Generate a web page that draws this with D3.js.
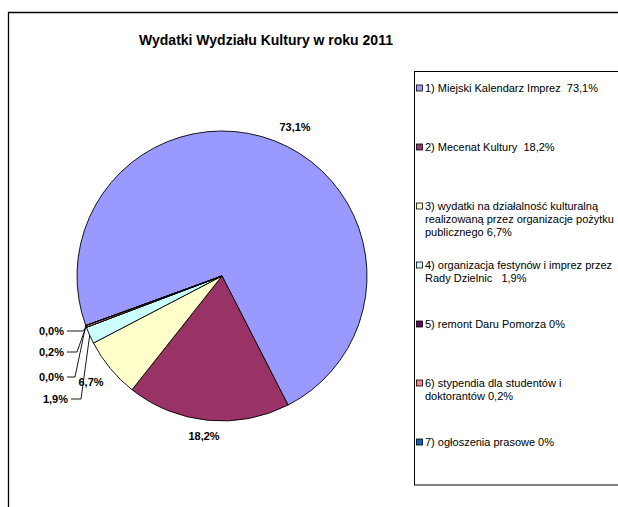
<!DOCTYPE html>
<html><head><meta charset="utf-8">
<script src="https://cdn.jsdelivr.net/npm/d3@7/dist/d3.min.js"></script>
<style>body{margin:0;background:#fff;overflow:hidden} text{font-family:"Liberation Sans",Arial,sans-serif;white-space:pre}</style>
</head><body>
<script>
// ---- data ----
const categories = [
  "1) Miejski Kalendarz Imprez  73,1%",
  "2) Mecenat Kultury  18,2%",
  "3) wydatki na działalność kulturalną\nrealizowaną przez organizacje pożytku\npublicznego 6,7%",
  "4) organizacja festynów i imprez przez\nRady Dzielnic   1,9%",
  "5) remont Daru Pomorza 0%",
  "6) stypendia dla studentów i\ndoktorantów 0,2%",
  "7) ogłoszenia prasowe 0%"
];
const values = [73.1, 18.2, 6.7, 1.9, 0, 0.2, 0];
const valueLabels = ["73,1%", "18,2%", "6,7%", "1,9%", "0,0%", "0,2%", "0,0%"];
const colors = ["#9999FF", "#993366", "#FFFFCC", "#CCFFFF", "#660066", "#FF8080", "#0066CC"];
const title = "Wydatki Wydziału Kultury w roku 2011";

// ---- layout ----
const W = 618, H = 507;
const cx = 222, cy = 276, R = 145;
const firstSliceDeg = 250;
// label placement: [x, y, anchor, leader elbow x or null]
const labelLayout = [
  [295, 127, "middle", null],
  [204, 436, "middle", null],
  [91, 382, "middle", null],
  [68, 399, "end", 81],
  [64, 331, "end", 83],
  [64, 352, "end", 77],
  [64, 377, "end", 75]
];

const svg = d3.select("body").append("svg").attr("width", W).attr("height", H);

// outer frame
svg.append("path").attr("d", `M8.5,${H+2} V12.5 H${W+2}`)
  .attr("fill", "none").attr("stroke", "#000").attr("stroke-width", 1.3);

svg.append("text").attr("x", 266).attr("y", 40).attr("dy", "0.35em")
  .attr("text-anchor", "middle").attr("font-weight", "bold").attr("font-size", 14)
  .text(title);

const a0 = firstSliceDeg * Math.PI / 180;
const pie = d3.pie().sort(null).value(d => d).startAngle(a0).endAngle(a0 + 2 * Math.PI);
const arcs = pie(values);
const arc = d3.arc().innerRadius(0).outerRadius(R);
const edge = d3.arc().innerRadius(R).outerRadius(R);

const g = svg.append("g").attr("transform", `translate(${cx},${cy})`);
g.selectAll("path.slice").data(arcs).enter().append("path")
  .attr("class", "slice")
  .attr("d", arc)
  .attr("fill", (d, i) => colors[i])
  .attr("stroke", "#000").attr("stroke-width", 0.9).attr("stroke-linejoin", "round");

// labels
arcs.forEach((d, i) => {
  const [lx, ly, anchor, elbow] = labelLayout[i];
  if (elbow !== null) {
    const p = edge.centroid(d);
    const ex = p[0] + cx, ey = p[1] + cy;
    svg.append("polyline")
      .attr("points", `${lx + 3},${ly} ${elbow},${ly} ${ex},${ey}`)
      .attr("fill", "none").attr("stroke", "#000").attr("stroke-width", 0.9);
  }
  svg.append("text").attr("x", lx).attr("y", ly).attr("dy", "0.35em")
    .attr("text-anchor", anchor).attr("font-weight", "bold").attr("font-size", 11)
    .text(valueLabels[i]);
});

// legend
svg.append("rect").attr("x", 414.5).attr("y", 71.5).attr("width", 220).attr("height", 413.5)
  .attr("fill", "#fff").attr("stroke", "#000").attr("stroke-width", 1);
const legY = d3.scalePoint().domain(d3.range(categories.length)).range([88, 442]);
categories.forEach((c, i) => {
  const y = legY(i);
  svg.append("rect").attr("x", 416.5).attr("y", y - 3).attr("width", 6).attr("height", 6)
    .attr("fill", colors[i]).attr("stroke", "#000").attr("stroke-width", 0.8);
  const t = svg.append("text").attr("x", 425).attr("y", y).attr("font-size", 11);
  c.split("\n").forEach((line, k) => {
    t.append("tspan").attr("x", 425).attr("dy", k === 0 ? "0.35em" : "1.2em").text(line);
  });
});
</script>
</body></html>
